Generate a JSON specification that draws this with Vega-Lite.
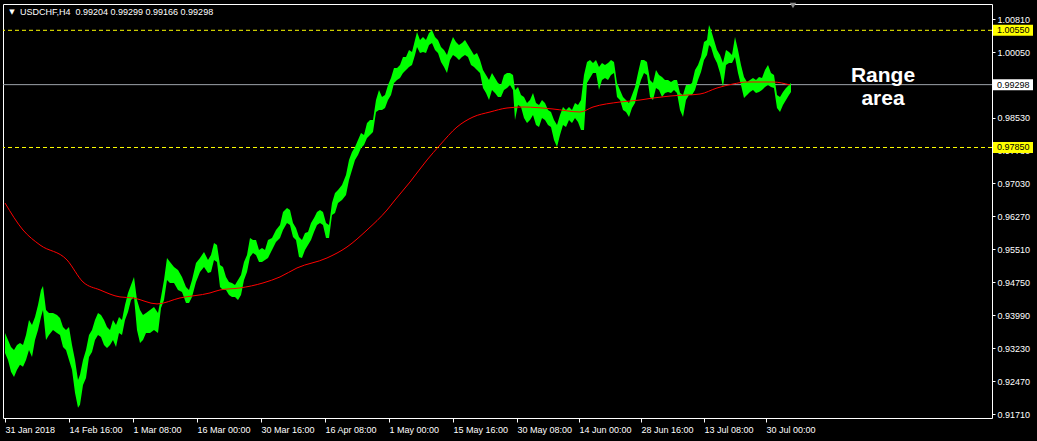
{
  "$schema": "https://vega.github.io/schema/vega-lite/v6.json",
  "width": 989,
  "height": 414,
  "autosize": {"type": "none"},
  "padding": {"left": 3, "top": 4, "right": 45, "bottom": 23},
  "background": "#000000",
  "config": {
    "view": {"stroke": "#ffffff", "strokeWidth": 1},
    "font": "Liberation Sans",
    "axis": {"grid": false, "domain": false, "labelColor": "#ffffff", "tickColor": "#ffffff", "labelFont": "Liberation Sans", "labelFontSize": 9, "tickSize": 3, "labelOverlap": false, "labelFlush": false, "labelBound": false}
  },
  "resolve": {"scale": {"color": "independent"}},
  "datasets": {
    "bars": [
      {"bar":0,"hi":0.93578,"lo":0.93118},{"bar":3,"hi":0.93417,"lo":0.92957},{"bar":6,"hi":0.93256,"lo":0.92681},{"bar":9,"hi":0.93187,"lo":0.92565},
      {"bar":12,"hi":0.93302,"lo":0.92727},{"bar":15,"hi":0.93348,"lo":0.92842},{"bar":18,"hi":0.93302,"lo":0.92796},{"bar":21,"hi":0.93532,"lo":0.92957},
      {"bar":24,"hi":0.93878,"lo":0.93187},{"bar":27,"hi":0.93762,"lo":0.93026},{"bar":30,"hi":0.93947,"lo":0.93417},{"bar":33,"hi":0.94223,"lo":0.93647},
      {"bar":36,"hi":0.94568,"lo":0.93947},{"bar":38,"hi":0.9466,"lo":0.94108},{"bar":41,"hi":0.94108,"lo":0.93417},{"bar":44,"hi":0.94039,"lo":0.93532},
      {"bar":48,"hi":0.94039,"lo":0.93647},{"bar":52,"hi":0.93993,"lo":0.93578},{"bar":55,"hi":0.93924,"lo":0.93532},{"bar":58,"hi":0.93716,"lo":0.93256},
      {"bar":61,"hi":0.93647,"lo":0.93187},{"bar":64,"hi":0.93716,"lo":0.92957},{"bar":67,"hi":0.93302,"lo":0.92727},{"bar":70,"hi":0.92957,"lo":0.92197},
      {"bar":73,"hi":0.92496,"lo":0.91852},{"bar":75,"hi":0.92612,"lo":0.91921},{"bar":78,"hi":0.92957,"lo":0.92381},{"bar":81,"hi":0.93187,"lo":0.92542},
      {"bar":84,"hi":0.93532,"lo":0.93026},{"bar":87,"hi":0.93647,"lo":0.93141},{"bar":90,"hi":0.93878,"lo":0.93417},{"bar":93,"hi":0.94039,"lo":0.93532},
      {"bar":96,"hi":0.93993,"lo":0.93486},{"bar":99,"hi":0.93878,"lo":0.93302},{"bar":102,"hi":0.93716,"lo":0.93233},{"bar":105,"hi":0.93647,"lo":0.93302},
      {"bar":108,"hi":0.93878,"lo":0.93417},{"bar":111,"hi":0.93762,"lo":0.93256},{"bar":114,"hi":0.93947,"lo":0.93578},{"bar":117,"hi":0.93878,"lo":0.93532},
      {"bar":120,"hi":0.94223,"lo":0.93878},{"bar":123,"hi":0.94499,"lo":0.94062},{"bar":126,"hi":0.94683,"lo":0.94338},{"bar":129,"hi":0.94868,"lo":0.94407},
      {"bar":132,"hi":0.94338,"lo":0.93647},{"bar":135,"hi":0.94108,"lo":0.93348},{"bar":138,"hi":0.93993,"lo":0.93417},{"bar":141,"hi":0.94039,"lo":0.93578},
      {"bar":145,"hi":0.94108,"lo":0.93578},{"bar":149,"hi":0.94177,"lo":0.93647},{"bar":153,"hi":0.94039,"lo":0.93578},{"bar":156,"hi":0.94407,"lo":0.94154},
      {"bar":159,"hi":0.94798,"lo":0.94338},{"bar":162,"hi":0.95305,"lo":0.94798},{"bar":165,"hi":0.95213,"lo":0.94729},{"bar":169,"hi":0.95098,"lo":0.94729},
      {"bar":173,"hi":0.95029,"lo":0.94568},{"bar":177,"hi":0.94868,"lo":0.94522},{"bar":181,"hi":0.94637,"lo":0.94269},{"bar":184,"hi":0.94568,"lo":0.94269},
      {"bar":187,"hi":0.94798,"lo":0.94407},{"bar":191,"hi":0.9519,"lo":0.94752},{"bar":195,"hi":0.95305,"lo":0.94983},{"bar":199,"hi":0.95443,"lo":0.95098},
      {"bar":203,"hi":0.95259,"lo":0.9496},{"bar":206,"hi":0.95374,"lo":0.94983},{"bar":209,"hi":0.9565,"lo":0.95259},{"bar":212,"hi":0.95604,"lo":0.95213},
      {"bar":215,"hi":0.95144,"lo":0.94637},{"bar":218,"hi":0.95098,"lo":0.94568},{"bar":221,"hi":0.94868,"lo":0.94568},{"bar":224,"hi":0.94752,"lo":0.94453},
      {"bar":227,"hi":0.94729,"lo":0.94407},{"bar":230,"hi":0.94683,"lo":0.94407},{"bar":233,"hi":0.94798,"lo":0.94338},{"bar":236,"hi":0.94914,"lo":0.94453},
      {"bar":239,"hi":0.95213,"lo":0.94798},{"bar":242,"hi":0.95374,"lo":0.94983},{"bar":245,"hi":0.95765,"lo":0.95328},{"bar":248,"hi":0.95719,"lo":0.9542},
      {"bar":251,"hi":0.95719,"lo":0.95374},{"bar":254,"hi":0.95489,"lo":0.95213},{"bar":257,"hi":0.95535,"lo":0.95213},{"bar":260,"hi":0.95489,"lo":0.95259},
      {"bar":263,"hi":0.95719,"lo":0.95305},{"bar":267,"hi":0.95765,"lo":0.95489},{"bar":271,"hi":0.95949,"lo":0.95673},{"bar":275,"hi":0.96065,"lo":0.95765},
      {"bar":278,"hi":0.96364,"lo":0.95949},{"bar":282,"hi":0.96456,"lo":0.96111},{"bar":285,"hi":0.9641,"lo":0.96065},{"bar":288,"hi":0.96111,"lo":0.95788},
      {"bar":291,"hi":0.95995,"lo":0.95719},{"bar":294,"hi":0.95788,"lo":0.95328},{"bar":297,"hi":0.95719,"lo":0.95305},{"bar":300,"hi":0.9588,"lo":0.95489},
      {"bar":303,"hi":0.95903,"lo":0.95604},{"bar":306,"hi":0.96111,"lo":0.95719},{"bar":309,"hi":0.96226,"lo":0.95903},{"bar":312,"hi":0.96364,"lo":0.96065},
      {"bar":315,"hi":0.9641,"lo":0.96111},{"bar":318,"hi":0.96364,"lo":0.96065},{"bar":321,"hi":0.96111,"lo":0.95765},{"bar":324,"hi":0.96065,"lo":0.95765},
      {"bar":327,"hi":0.96571,"lo":0.96295},{"bar":330,"hi":0.96801,"lo":0.96341},{"bar":333,"hi":0.9687,"lo":0.96571},{"bar":337,"hi":0.96986,"lo":0.9664},
      {"bar":341,"hi":0.97216,"lo":0.96755},{"bar":344,"hi":0.97562,"lo":0.97101},{"bar":347,"hi":0.97746,"lo":0.97331},{"bar":350,"hi":0.97861,"lo":0.97562},
      {"bar":353,"hi":0.98023,"lo":0.97677},{"bar":356,"hi":0.98184,"lo":0.97838},{"bar":359,"hi":0.98138,"lo":0.97908},{"bar":362,"hi":0.98414,"lo":0.98069},
      {"bar":365,"hi":0.98483,"lo":0.98138},{"bar":368,"hi":0.98483,"lo":0.98207},{"bar":371,"hi":0.98944,"lo":0.98668},{"bar":374,"hi":0.99174,"lo":0.98714},
      {"bar":377,"hi":0.99013,"lo":0.98714},{"bar":380,"hi":0.99059,"lo":0.9876},{"bar":383,"hi":0.9929,"lo":0.98944},{"bar":386,"hi":0.99451,"lo":0.99059},
      {"bar":389,"hi":0.99681,"lo":0.99336},{"bar":392,"hi":0.99681,"lo":0.99405},{"bar":395,"hi":0.9975,"lo":0.99451},{"bar":398,"hi":0.99935,"lo":0.99566},
      {"bar":401,"hi":0.99935,"lo":0.99635},{"bar":404,"hi":1.00096,"lo":0.99704},{"bar":407,"hi":1.0005,"lo":0.9975},{"bar":410,"hi":1.00326,"lo":0.99981},
      {"bar":412,"hi":1.00511,"lo":1.00165},{"bar":415,"hi":1.00326,"lo":1.00027},{"bar":418,"hi":1.00395,"lo":1.0005},{"bar":421,"hi":1.00326,"lo":1.00027},
      {"bar":424,"hi":1.00488,"lo":1.00211},{"bar":427,"hi":1.00557,"lo":1.00257},{"bar":430,"hi":1.00395,"lo":1.00096},{"bar":433,"hi":1.00326,"lo":1.00027},
      {"bar":436,"hi":1.00165,"lo":0.99819},{"bar":439,"hi":1.00096,"lo":0.99704},{"bar":442,"hi":0.99981,"lo":0.99566},{"bar":445,"hi":1.00211,"lo":0.99866},
      {"bar":448,"hi":1.00395,"lo":0.99981},{"bar":451,"hi":1.0028,"lo":0.99935},{"bar":454,"hi":1.00211,"lo":0.99866},{"bar":457,"hi":1.00257,"lo":0.99935},
      {"bar":460,"hi":1.00326,"lo":0.99981},{"bar":463,"hi":1.00211,"lo":0.99935},{"bar":466,"hi":1.00096,"lo":0.9975},{"bar":469,"hi":0.99981,"lo":0.99704},
      {"bar":472,"hi":1.00027,"lo":0.99635},{"bar":475,"hi":0.99866,"lo":0.99566},{"bar":478,"hi":0.99635,"lo":0.99221},{"bar":481,"hi":0.9952,"lo":0.99105},
      {"bar":484,"hi":0.99405,"lo":0.98944},{"bar":487,"hi":0.99566,"lo":0.99174},{"bar":490,"hi":0.99451,"lo":0.99105},{"bar":493,"hi":0.99336,"lo":0.99013},
      {"bar":496,"hi":0.9929,"lo":0.99013},{"bar":499,"hi":0.9952,"lo":0.99174},{"bar":502,"hi":0.99566,"lo":0.99221},{"bar":505,"hi":0.99566,"lo":0.9929},
      {"bar":508,"hi":0.9952,"lo":0.99174},{"bar":510,"hi":0.99174,"lo":0.98483},{"bar":513,"hi":0.99244,"lo":0.98829},{"bar":516,"hi":0.99059,"lo":0.98783},
      {"bar":519,"hi":0.99013,"lo":0.98529},{"bar":522,"hi":0.98875,"lo":0.98414},{"bar":525,"hi":0.98944,"lo":0.98483},{"bar":528,"hi":0.99105,"lo":0.98598},
      {"bar":531,"hi":0.98875,"lo":0.98368},{"bar":534,"hi":0.98829,"lo":0.98322},{"bar":537,"hi":0.98944,"lo":0.98529},{"bar":540,"hi":0.98875,"lo":0.98483},
      {"bar":543,"hi":0.98714,"lo":0.98368},{"bar":546,"hi":0.98668,"lo":0.98322},{"bar":549,"hi":0.98483,"lo":0.98023},{"bar":552,"hi":0.98368,"lo":0.97861},
      {"bar":555,"hi":0.98598,"lo":0.98138},{"bar":558,"hi":0.98783,"lo":0.98368},{"bar":561,"hi":0.98714,"lo":0.98322},{"bar":564,"hi":0.98783,"lo":0.98483},
      {"bar":567,"hi":0.98714,"lo":0.98414},{"bar":570,"hi":0.98875,"lo":0.98529},{"bar":573,"hi":0.98829,"lo":0.98437},{"bar":576,"hi":0.98944,"lo":0.98253},
      {"bar":579,"hi":0.9952,"lo":0.98253},{"bar":582,"hi":0.99819,"lo":0.99336},{"bar":585,"hi":0.99866,"lo":0.99451},{"bar":588,"hi":0.99796,"lo":0.99566},
      {"bar":591,"hi":0.99866,"lo":0.99566},{"bar":594,"hi":0.99704,"lo":0.99174},{"bar":597,"hi":0.99796,"lo":0.99405},{"bar":600,"hi":0.9975,"lo":0.99451},
      {"bar":603,"hi":0.99796,"lo":0.99405},{"bar":606,"hi":0.99866,"lo":0.9952},{"bar":609,"hi":0.99819,"lo":0.99566},{"bar":612,"hi":0.99336,"lo":0.99013},
      {"bar":615,"hi":0.99174,"lo":0.98944},{"bar":618,"hi":0.99013,"lo":0.98714},{"bar":621,"hi":0.98944,"lo":0.98668},{"bar":624,"hi":0.98875,"lo":0.98552},
      {"bar":627,"hi":0.99059,"lo":0.9876},{"bar":630,"hi":0.99244,"lo":0.98875},{"bar":633,"hi":0.99566,"lo":0.99174},{"bar":636,"hi":0.99866,"lo":0.99405},
      {"bar":639,"hi":0.99866,"lo":0.99566},{"bar":642,"hi":0.99819,"lo":0.9952},{"bar":645,"hi":0.99405,"lo":0.99013},{"bar":648,"hi":0.99336,"lo":0.98944},
      {"bar":651,"hi":0.99635,"lo":0.99221},{"bar":654,"hi":0.9952,"lo":0.99174},{"bar":657,"hi":0.99474,"lo":0.99013},{"bar":660,"hi":0.99405,"lo":0.99105},
      {"bar":663,"hi":0.99405,"lo":0.99128},{"bar":666,"hi":0.99359,"lo":0.99105},{"bar":669,"hi":0.99405,"lo":0.99174},{"bar":672,"hi":0.99405,"lo":0.99105},
      {"bar":675,"hi":0.99105,"lo":0.98714},{"bar":678,"hi":0.99059,"lo":0.98552},{"bar":681,"hi":0.9929,"lo":0.98944},{"bar":684,"hi":0.9929,"lo":0.99059},
      {"bar":687,"hi":0.99336,"lo":0.99059},{"bar":690,"hi":0.99635,"lo":0.99174},{"bar":693,"hi":0.9975,"lo":0.99405},{"bar":696,"hi":0.99935,"lo":0.99589},
      {"bar":699,"hi":1.0028,"lo":0.99866},{"bar":702,"hi":1.00326,"lo":0.99981},{"bar":704,"hi":1.00672,"lo":1.00211},{"bar":706,"hi":1.00557,"lo":1.00165},
      {"bar":709,"hi":1.00326,"lo":0.99935},{"bar":712,"hi":1.00096,"lo":0.99796},{"bar":715,"hi":0.99981,"lo":0.99566},{"bar":718,"hi":0.99796,"lo":0.99244},
      {"bar":721,"hi":1.00096,"lo":0.9975},{"bar":724,"hi":1.0005,"lo":0.99796},{"bar":727,"hi":0.99981,"lo":0.99796},{"bar":730,"hi":1.00395,"lo":0.99935},
      {"bar":733,"hi":1.00096,"lo":0.99566},{"bar":736,"hi":0.9975,"lo":0.9929},{"bar":739,"hi":0.99474,"lo":0.9899},{"bar":742,"hi":0.99359,"lo":0.99059},
      {"bar":745,"hi":0.99405,"lo":0.99128},{"bar":748,"hi":0.99451,"lo":0.99174},{"bar":751,"hi":0.99405,"lo":0.99105},{"bar":754,"hi":0.99474,"lo":0.99128},
      {"bar":757,"hi":0.99451,"lo":0.99174},{"bar":760,"hi":0.99635,"lo":0.99244},{"bar":763,"hi":0.9975,"lo":0.9929},{"bar":766,"hi":0.99566,"lo":0.99244},
      {"bar":769,"hi":0.9952,"lo":0.99221},{"bar":772,"hi":0.99059,"lo":0.9876},{"bar":775,"hi":0.99013,"lo":0.98668},{"bar":778,"hi":0.99128,"lo":0.98829},
      {"bar":781,"hi":0.99221,"lo":0.98944},{"bar":784,"hi":0.9929,"lo":0.99059},{"bar":786,"hi":0.99336,"lo":0.99128}
    ],
    "ma": [
      {"bar":0,"ma":0.96571},{"bar":18,"ma":0.95949},{"bar":35,"ma":0.95604},{"bar":62,"ma":0.95259},{"bar":78,"ma":0.94752},
      {"bar":95,"ma":0.94568},{"bar":115,"ma":0.94407},{"bar":128,"ma":0.94384},{"bar":152,"ma":0.94246},{"bar":175,"ma":0.94384},
      {"bar":205,"ma":0.94499},{"bar":215,"ma":0.94568},{"bar":235,"ma":0.94614},{"bar":258,"ma":0.94729},{"bar":275,"ma":0.94868},
      {"bar":292,"ma":0.95075},{"bar":322,"ma":0.95305},{"bar":342,"ma":0.95558},{"bar":362,"ma":0.95949},{"bar":382,"ma":0.9641},
      {"bar":390,"ma":0.9664},{"bar":405,"ma":0.97055},{"bar":422,"ma":0.97562},{"bar":435,"ma":0.97908},{"bar":452,"ma":0.98322},
      {"bar":468,"ma":0.98552},{"bar":485,"ma":0.98668},{"bar":502,"ma":0.9876},{"bar":518,"ma":0.98783},{"bar":548,"ma":0.98737},
      {"bar":575,"ma":0.98668},{"bar":588,"ma":0.98783},{"bar":615,"ma":0.98898},{"bar":635,"ma":0.98944},{"bar":648,"ma":0.9899},
      {"bar":665,"ma":0.99036},{"bar":695,"ma":0.99082},{"bar":712,"ma":0.99221},{"bar":728,"ma":0.99313},{"bar":742,"ma":0.99359},
      {"bar":768,"ma":0.99359},{"bar":785,"ma":0.9929}
    ],
    "levels": [
      {"price": 1.0055, "kind": "level", "label": "1.00550"},
      {"price": 0.9785, "kind": "level", "label": "0.97850"},
      {"price": 0.99298, "kind": "bid", "label": "0.99298"}
    ]
  },
  "layer": [
    {
      "data": {"name": "levels"},
      "mark": {"type": "rule", "strokeWidth": 1},
      "encoding": {
        "y": {"field": "price", "type": "quantitative", "title": null},
        "color": {"field": "kind", "type": "nominal", "scale": {"domain": ["level", "bid"], "range": ["#ffff00", "#9ea4ab"]}, "legend": null},
        "strokeDash": {"field": "kind", "type": "nominal", "scale": {"domain": ["level", "bid"], "range": [[4, 3], [1, 0]]}, "legend": null}
      }
    },
    {
      "data": {"name": "bars"},
      "mark": {"type": "area", "color": "#00ff00", "interpolate": "linear"},
      "encoding": {
        "x": {
          "field": "bar", "type": "quantitative", "title": null,
          "scale": {"domain": [-2, 987], "nice": false, "zero": false},
          "axis": {
            "orient": "bottom",
            "values": [0, 64, 128, 192, 256, 320, 384, 448, 512, 574, 636, 699, 761],
            "tickCount": 40,
            "labelAlign": "left", "labelBaseline": "top", "labelPadding": 3, "tickSize": 4,
            "labelExpr": "['31 Jan 2018','14 Feb 16:00','1 Mar 08:00','16 Mar 00:00','30 Mar 16:00','16 Apr 08:00','1 May 00:00','15 May 16:00','30 May 08:00','14 Jun 00:00','28 Jun 16:00','13 Jul 08:00','30 Jul 00:00'][indexof([0,64,128,192,256,320,384,448,512,574,636,699,761], datum.value)]",
            "labelOverlap": false, "labelFlush": false
          }
        },
        "y": {
          "field": "hi", "type": "quantitative", "title": null,
          "scale": {"domain": [0.91618, 1.01156], "nice": false, "zero": false},
          "axis": {
            "orient": "right",
            "values": [1.0081, 1.0005, 0.9929, 0.9853, 0.9778, 0.9703, 0.9627, 0.9551, 0.9475, 0.9399, 0.9323, 0.9247, 0.9171],
            "tickCount": 40,
            "format": ".5f", "labelAlign": "left", "labelPadding": 2, "labelOverlap": false, "labelFlush": false
          }
        },
        "y2": {"field": "lo"}
      }
    },
    {
      "data": {"name": "ma"},
      "mark": {"type": "line", "color": "#ff0000", "strokeWidth": 1, "interpolate": "monotone"},
      "encoding": {
        "x": {"field": "bar", "type": "quantitative", "title": null},
        "y": {"field": "ma", "type": "quantitative", "title": null}
      }
    },
    {
      "data": {"name": "levels"},
      "mark": {"type": "point", "shape": "M-1,-0.275L1,-0.275L1,0.275L-1,0.275Z", "filled": true, "opacity": 1, "size": 1600, "strokeWidth": 0},
      "encoding": {
        "x": {"datum": 1008},
        "y": {"field": "price", "type": "quantitative", "title": null},
        "fill": {"field": "kind", "type": "nominal", "scale": {"domain": ["level", "bid"], "range": ["#ffff00", "#ffffff"]}, "legend": null}
      }
    },
    {
      "data": {"name": "levels"},
      "mark": {"type": "text", "align": "left", "baseline": "middle", "fontSize": 9, "color": "#000000"},
      "encoding": {
        "x": {"datum": 992},
        "y": {"field": "price", "type": "quantitative", "title": null},
        "text": {"field": "label"}
      }
    },
    {
      "data": {"values": [{}]},
      "mark": {"type": "text", "align": "center", "baseline": "alphabetic", "fontSize": 21, "fontWeight": "bold", "color": "#ffffff", "font": "Liberation Sans"},
      "encoding": {
        "x": {"datum": 878},
        "y": {"datum": 0.99359},
        "text": {"value": "Range"}
      }
    },
    {
      "data": {"values": [{}]},
      "mark": {"type": "text", "align": "center", "baseline": "alphabetic", "fontSize": 21, "fontWeight": "bold", "color": "#ffffff", "font": "Liberation Sans"},
      "encoding": {
        "x": {"datum": 878},
        "y": {"datum": 0.98829},
        "text": {"value": "area"}
      }
    },
    {
      "data": {"values": [{}]},
      "mark": {"type": "text", "align": "center", "baseline": "middle", "fontSize": 7, "color": "#ffffff", "font": "DejaVu Sans"},
      "encoding": {
        "x": {"datum": 7},
        "y": {"datum": 1.00972},
        "text": {"value": "▼"}
      }
    },
    {
      "data": {"values": [{}]},
      "mark": {"type": "text", "align": "left", "baseline": "middle", "fontSize": 9, "color": "#ffffff"},
      "encoding": {
        "x": {"datum": 15},
        "y": {"datum": 1.00972},
        "text": {"value": "USDCHF,H4 \u00a00.99204 0.99299 0.99166 0.99298"}
      }
    },
    {
      "data": {"values": [{}]},
      "mark": {"type": "point", "shape": "triangle-down", "filled": true, "color": "#8c8c8c", "size": 40, "opacity": 1},
      "encoding": {
        "x": {"datum": 788},
        "y": {"datum": 1.0112}
      }
    }
  ]
}
